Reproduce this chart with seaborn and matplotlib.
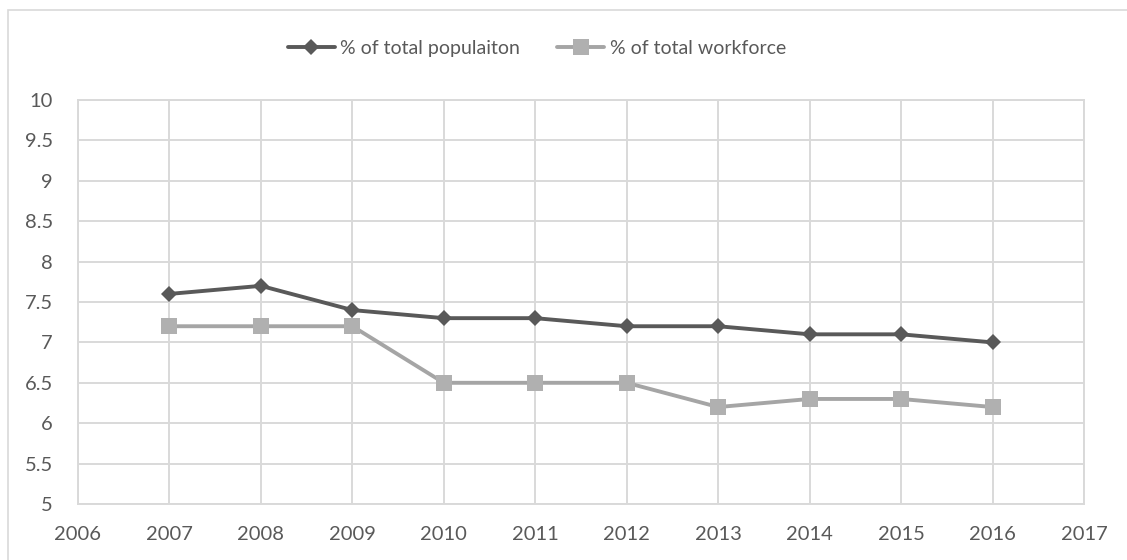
import matplotlib
matplotlib.use("Agg")
import matplotlib.pyplot as plt
from matplotlib.patches import Rectangle
from matplotlib.ticker import FuncFormatter
import seaborn as sns
import pandas as pd

years = [2007, 2008, 2009, 2010, 2011, 2012, 2013, 2014, 2015, 2016]
pct_population = [7.6, 7.7, 7.4, 7.3, 7.3, 7.2, 7.2, 7.1, 7.1, 7.0]
pct_workforce = [7.2, 7.2, 7.2, 6.5, 6.5, 6.5, 6.2, 6.3, 6.3, 6.2]
series_names = ["% of total populaiton", "% of total workforce"]
x_ticks = list(range(2006, 2018))
y_ticks = [5, 5.5, 6, 6.5, 7, 7.5, 8, 8.5, 9, 9.5, 10]

sns.set_theme(style="white")
plt.rcParams["font.family"] = ["Lato", "DejaVu Sans"]

text_color = "#595959"
grid_color = "#D9D9D9"

df = pd.DataFrame({"year": years,
                   series_names[0]: pct_population,
                   series_names[1]: pct_workforce})

fig = plt.figure(figsize=(11.27, 5.6), dpi=100)
ax = fig.add_axes([78 / 1127, 1 - 504 / 560, (1084 - 78) / 1127, (504 - 100) / 560])

sns.lineplot(data=df, x="year", y=series_names[0], ax=ax, color="#595959",
             linewidth=2.8, marker="D", markersize=8.5, markeredgewidth=0,
             label=series_names[0], zorder=4)
sns.lineplot(data=df, x="year", y=series_names[1], ax=ax, color="#A5A5A5",
             linewidth=2.8, marker="s", markersize=12, markeredgewidth=0,
             markerfacecolor="#B0B0B0", label=series_names[1], zorder=3)

ax.set_xlim(2006, 2017)
ax.set_ylim(5, 10)
ax.set_xticks(x_ticks)
ax.set_yticks(y_ticks)
ax.yaxis.set_major_formatter(FuncFormatter(lambda v, p: f"{v:g}"))
ax.set_xlabel("")
ax.set_ylabel("")
ax.grid(True, color=grid_color, linewidth=1.4)
ax.set_axisbelow(True)
for s in ax.spines.values():
    s.set_color(grid_color)
    s.set_linewidth(1.4)
ax.tick_params(axis="both", length=0, labelsize=14.5, labelcolor=text_color)
ax.tick_params(axis="x", pad=16)
ax.tick_params(axis="y", pad=18)

leg = ax.legend(loc="center", bbox_to_anchor=(537 / 1127, 1 - 48 / 560),
                bbox_transform=fig.transFigure, ncol=2, frameon=False,
                fontsize=14, handlelength=2.4, handletextpad=0.3,
                columnspacing=1.9)
for t in leg.get_texts():
    t.set_color(text_color)

# chart-area border
fig.add_artist(Rectangle((8 / 1127, -0.5), 2.0, 1.5 - 10 / 560,
                         transform=fig.transFigure, fill=False,
                         edgecolor=grid_color, linewidth=1.2))

fig.savefig("out.png", dpi=100)
